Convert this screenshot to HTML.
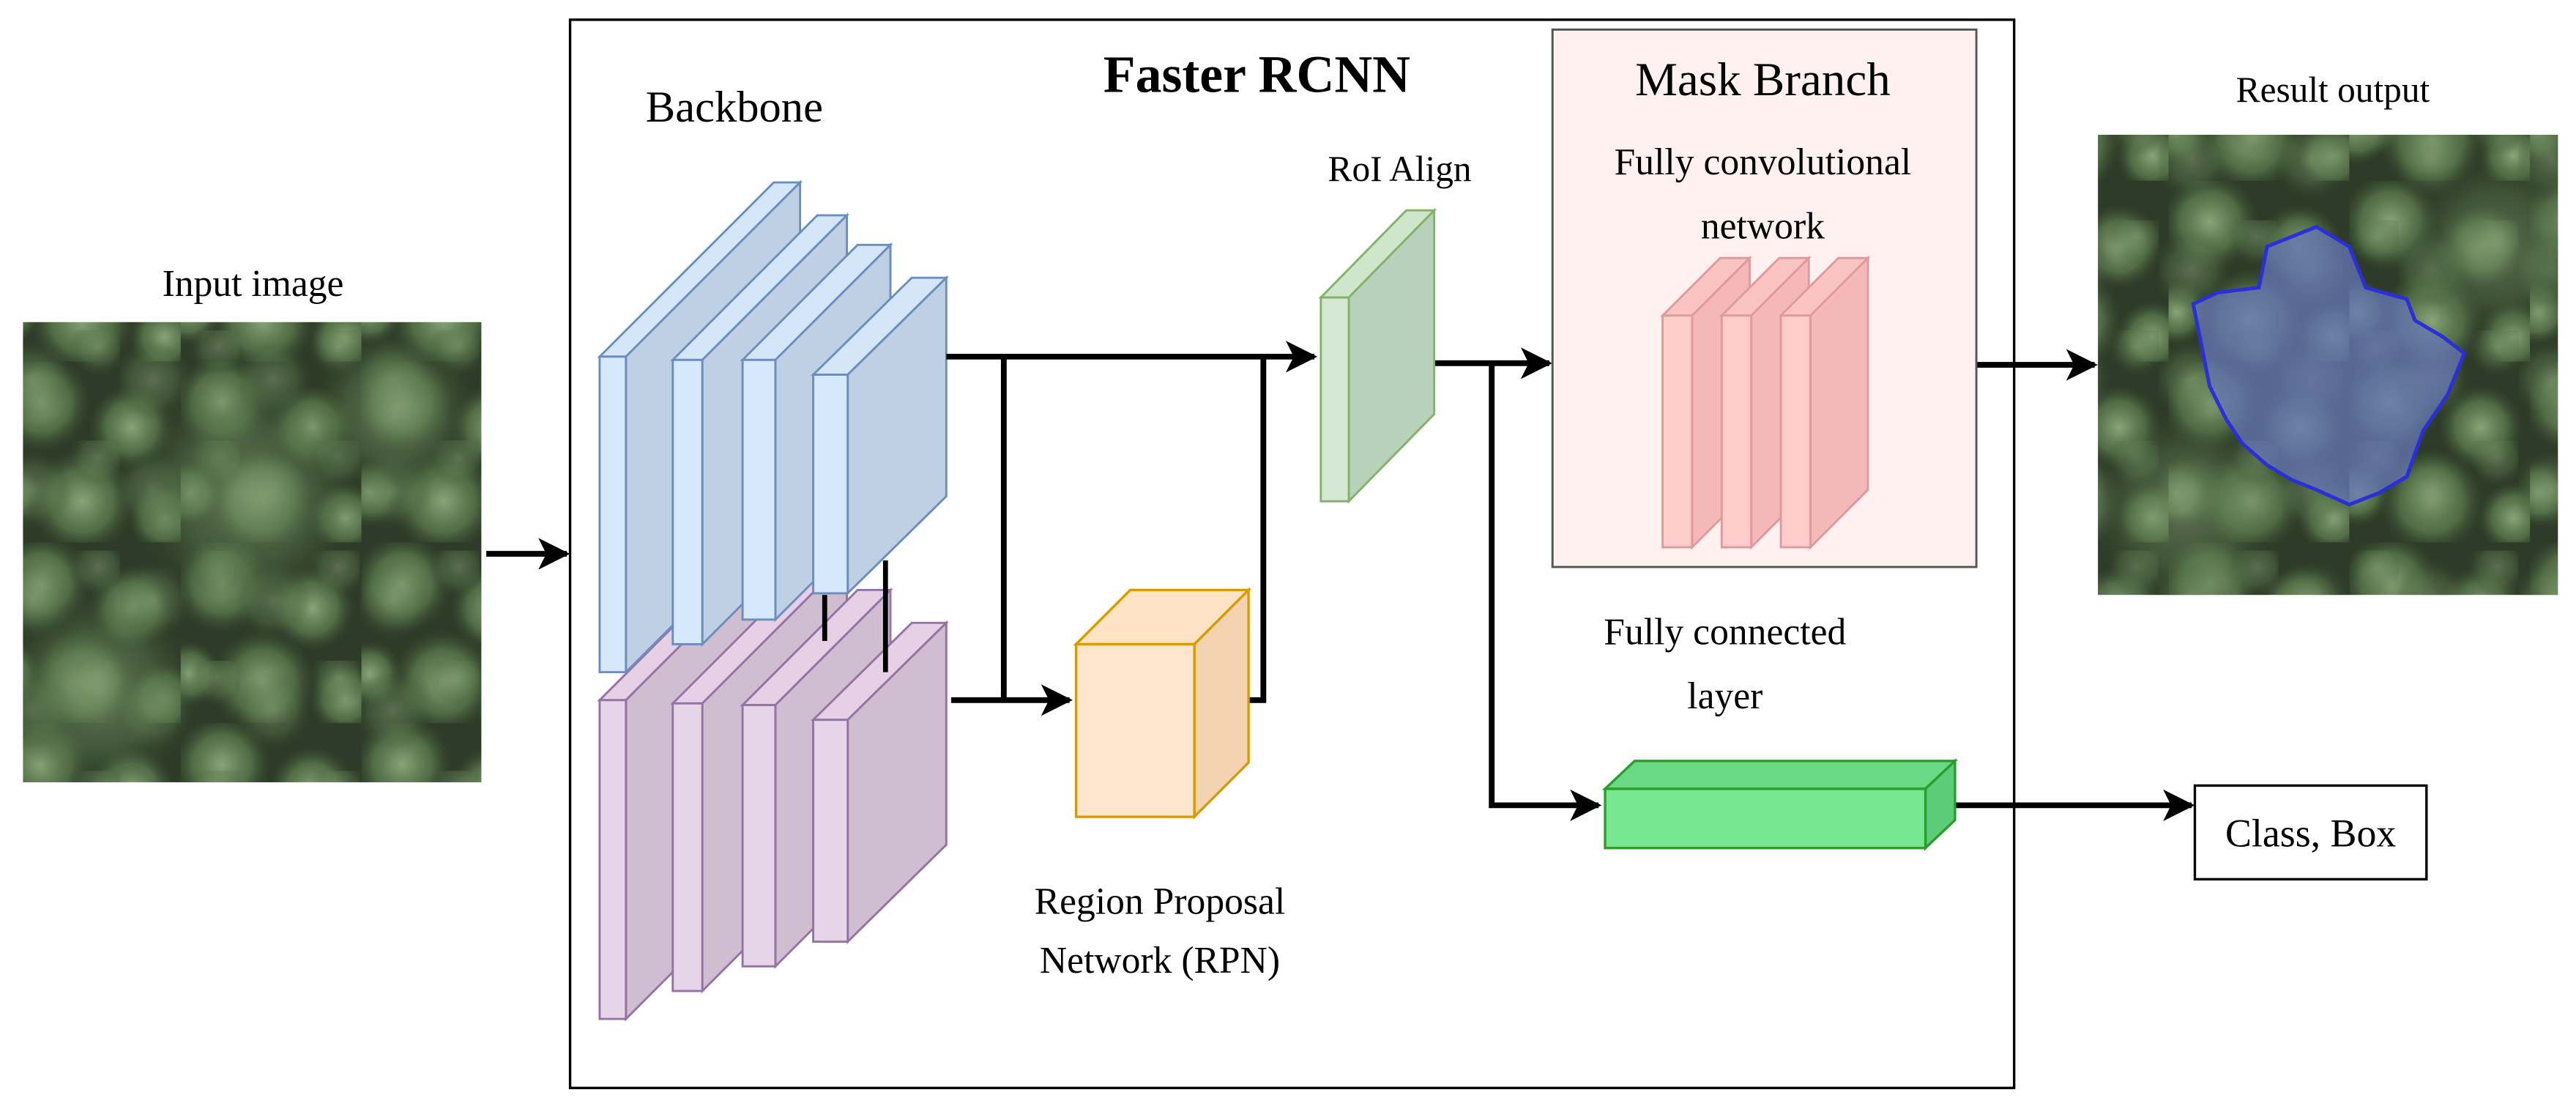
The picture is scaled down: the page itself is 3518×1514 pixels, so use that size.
<!DOCTYPE html>
<html><head><meta charset="utf-8"><style>html,body{margin:0;padding:0;background:#fff}svg{display:block}</style></head>
<body>
<svg width="3518" height="1514" viewBox="0 0 1568 674.8" preserveAspectRatio="none" xmlns="http://www.w3.org/2000/svg" font-family="Liberation Serif, serif">
<defs>
<marker id="ah" viewBox="0 0 10 10" refX="9" refY="5" markerWidth="5.5" markerHeight="5.5" orient="auto" markerUnits="strokeWidth"><path d="M0,0 L10,5 L0,10 L2.5,5 z" fill="#000"/></marker>
<radialGradient id="blob" cx="50%" cy="50%" r="50%"><stop offset="0" stop-color="#89a577"/><stop offset="0.6" stop-color="#5d7c50" stop-opacity="0.75"/><stop offset="1" stop-color="#3a5232" stop-opacity="0"/></radialGradient>
<pattern id="trees" width="110" height="110" patternUnits="userSpaceOnUse">
<rect width="110" height="110" fill="#2e3b28"/>
<circle cx="25" cy="25" r="30" fill="url(#blob)"/>
<circle cx="80" cy="40" r="26" fill="url(#blob)"/>
<circle cx="50" cy="85" r="32" fill="url(#blob)"/>
<circle cx="100" cy="95" r="22" fill="url(#blob)"/>
<circle cx="5" cy="80" r="20" fill="url(#blob)"/>
</pattern>
<pattern id="trees2" width="73" height="67" patternUnits="userSpaceOnUse">
<circle cx="20" cy="30" r="24" fill="url(#blob)"/>
<circle cx="60" cy="10" r="18" fill="url(#blob)"/>
</pattern>
<clipPath id="c1"><rect x="14" y="196" width="279" height="280"/></clipPath>
<clipPath id="c2"><rect x="1277" y="82" width="280" height="280"/></clipPath>
</defs>

<!-- input image -->
<rect x="14" y="196" width="279" height="280" fill="url(#trees)"/>
<rect x="14" y="196" width="279" height="280" fill="url(#trees2)" opacity="0.5"/>
<g clip-path="url(#c1)" opacity="0.6">
<circle cx="150" cy="300" r="70" fill="url(#blob)"/><circle cx="60" cy="420" r="60" fill="url(#blob)"/><circle cx="240" cy="250" r="50" fill="url(#blob)"/>
</g>
<text x="154" y="180" font-size="23" text-anchor="middle">Input image</text>
<line x1="296" y1="337" x2="345" y2="337" stroke="#000" stroke-width="3.5" marker-end="url(#ah)"/>

<!-- main box -->
<rect x="347" y="12" width="879" height="650" fill="none" stroke="#000" stroke-width="1.5"/>
<text x="765" y="56" font-size="32" font-weight="bold" text-anchor="middle">Faster RCNN</text>
<text x="447" y="74" font-size="27" text-anchor="middle">Backbone</text>
<text x="852" y="110" font-size="22" text-anchor="middle">RoI Align</text>
<text x="706" y="556" font-size="23" text-anchor="middle">Region Proposal</text>
<text x="706" y="592" font-size="23" text-anchor="middle">Network (RPN)</text>

<!-- purple layers -->
<g stroke="#9673a6" stroke-width="1.3">
<g><polygon points="365,426 381,426 487,320 471,320" fill="#e6d0e6"/><polygon points="381,426 487,320 487,514 381,620" fill="#cfbdd0"/><rect x="365" y="426" width="16" height="194" fill="#e6d5e8"/></g>
<g><polygon points="409.5,428 427.5,428 515.5,340 497.5,340" fill="#e6d0e6"/><polygon points="427.5,428 515.5,340 515.5,515 427.5,603" fill="#cfbdd0"/><rect x="409.5" y="428" width="18" height="175" fill="#e6d5e8"/></g>
<g><polygon points="452,429 472,429 542,359 522,359" fill="#e6d0e6"/><polygon points="472,429 542,359 542,518 472,588" fill="#cfbdd0"/><rect x="452" y="429" width="20" height="159" fill="#e6d5e8"/></g>
<g><polygon points="495,438 516,438 576,379 555,379" fill="#e6d0e6"/><polygon points="516,438 576,379 576,514 516,573" fill="#cfbdd0"/><rect x="495" y="438" width="21" height="135" fill="#e6d5e8"/></g>
</g>
<!-- blue layers -->
<g stroke="#6c8ebf" stroke-width="1.3">
<g><polygon points="365,217 381,217 487,111 471,111" fill="#d4e6f8"/><polygon points="381,217 487,111 487,303 381,409" fill="#bfd0e4"/><rect x="365" y="217" width="16" height="192" fill="#d6e8fb"/></g>
<g><polygon points="409.5,219 427.5,219 515.5,131 497.5,131" fill="#d4e6f8"/><polygon points="427.5,219 515.5,131 515.5,304 427.5,392" fill="#bfd0e4"/><rect x="409.5" y="219" width="18" height="173" fill="#d6e8fb"/></g>
<g><polygon points="452,219 472,219 542,149 522,149" fill="#d4e6f8"/><polygon points="472,219 542,149 542,307 472,377" fill="#bfd0e4"/><rect x="452" y="219" width="20" height="158" fill="#d6e8fb"/></g>
<g><polygon points="495,228 516,228 576,169 555,169" fill="#d4e6f8"/><polygon points="516,228 576,169 576,302 516,361" fill="#bfd0e4"/><rect x="495" y="228" width="21" height="133" fill="#d6e8fb"/></g>
</g>
<line x1="502" y1="362" x2="502" y2="390" stroke="#000" stroke-width="3"/>
<line x1="539" y1="341" x2="539" y2="409" stroke="#000" stroke-width="3"/>

<!-- connectors -->
<g stroke="#000" stroke-width="3.5" fill="none">
<line x1="576" y1="217" x2="800" y2="217" marker-end="url(#ah)"/>
<line x1="611" y1="217" x2="611" y2="426"/>
<line x1="579" y1="426" x2="651" y2="426" marker-end="url(#ah)"/>
<polyline points="760,426 769,426 769,217"/>
<line x1="873" y1="221" x2="943" y2="221" marker-end="url(#ah)"/>
<polyline points="908,221 908,490 973,490" marker-end="url(#ah)"/>
<line x1="1190" y1="490" x2="1334" y2="490" marker-end="url(#ah)"/>
<line x1="1203" y1="222" x2="1275" y2="222" marker-end="url(#ah)"/>
</g>

<!-- RPN cube -->
<g stroke="#d79b00" stroke-width="1.5">
<polygon points="655,392 727,392 760,359 688,359" fill="#fde3c4"/>
<polygon points="727,392 760,359 760,464 727,497" fill="#f2d2b0"/>
<rect x="655" y="392" width="72" height="105" fill="#ffe6cc"/>
</g>
<!-- RoI -->
<g stroke="#82b366" stroke-width="1.3">
<polygon points="804,181 821,181 873,128 856,128" fill="#cfe6cd"/>
<polygon points="821,181 873,128 873,252 821,305" fill="#b7d1ba"/>
<rect x="804" y="181" width="17" height="124" fill="#d5e8d4"/>
</g>

<!-- Mask branch -->
<rect x="945" y="18" width="258" height="327" fill="#fff1f0" stroke="#555" stroke-width="1.3"/>
<text x="1073" y="58" font-size="29" text-anchor="middle">Mask Branch</text>
<text x="1073" y="106" font-size="23" text-anchor="middle">Fully convolutional</text>
<text x="1073" y="145" font-size="23" text-anchor="middle">network</text>
<g stroke="#e09a9a" stroke-width="1.3">
<g><polygon points="1012,192 1030,192 1065,157 1047,157" fill="#fbc4c4"/><polygon points="1030,192 1065,157 1065,298 1030,333" fill="#f4b8b8"/><rect x="1012" y="192" width="18" height="141" fill="#ffcccc"/></g>
<g><polygon points="1048,192 1066,192 1101,157 1083,157" fill="#fbc4c4"/><polygon points="1066,192 1101,157 1101,298 1066,333" fill="#f4b8b8"/><rect x="1048" y="192" width="18" height="141" fill="#ffcccc"/></g>
<g><polygon points="1084,192 1102,192 1137,157 1119,157" fill="#fbc4c4"/><polygon points="1102,192 1137,157 1137,298 1102,333" fill="#f4b8b8"/><rect x="1084" y="192" width="18" height="141" fill="#ffcccc"/></g>
</g>

<!-- FC layer -->
<text x="1050" y="392" font-size="23" text-anchor="middle">Fully connected</text>
<text x="1050" y="431" font-size="23" text-anchor="middle">layer</text>
<g stroke="#2a9d2a" stroke-width="1.5">
<polygon points="977,480 1172,480 1190,463 995,463" fill="#6ad884"/>
<polygon points="1172,480 1190,463 1190,499 1172,516" fill="#5ccc78"/>
<rect x="977" y="480" width="195" height="36" fill="#79e692"/>
</g>

<!-- Class box -->
<rect x="1336" y="478" width="141" height="57" fill="#fff" stroke="#000" stroke-width="1.5"/>
<text x="1406.5" y="515" font-size="24" text-anchor="middle">Class, Box</text>

<!-- result image -->
<text x="1420" y="62" font-size="22" text-anchor="middle">Result output</text>
<rect x="1277" y="82" width="280" height="280" fill="url(#trees)"/>
<rect x="1277" y="82" width="280" height="280" fill="url(#trees2)" opacity="0.5"/>
<g clip-path="url(#c2)" opacity="0.5">
<circle cx="1330" cy="310" r="60" fill="url(#blob)"/><circle cx="1520" cy="150" r="55" fill="url(#blob)"/>
</g>
<polygon points="1335,185 1350,178 1375,175 1380,150 1410,138 1430,150 1440,175 1465,182 1470,195 1487,205 1500,215 1490,240 1475,262 1465,290 1448,300 1430,307 1410,298 1395,292 1380,283 1365,270 1355,255 1345,235 1340,210" fill="#6577b8" fill-opacity="0.75" stroke="#2b2fd8" stroke-width="2.2"/>
</svg>
</body></html>
